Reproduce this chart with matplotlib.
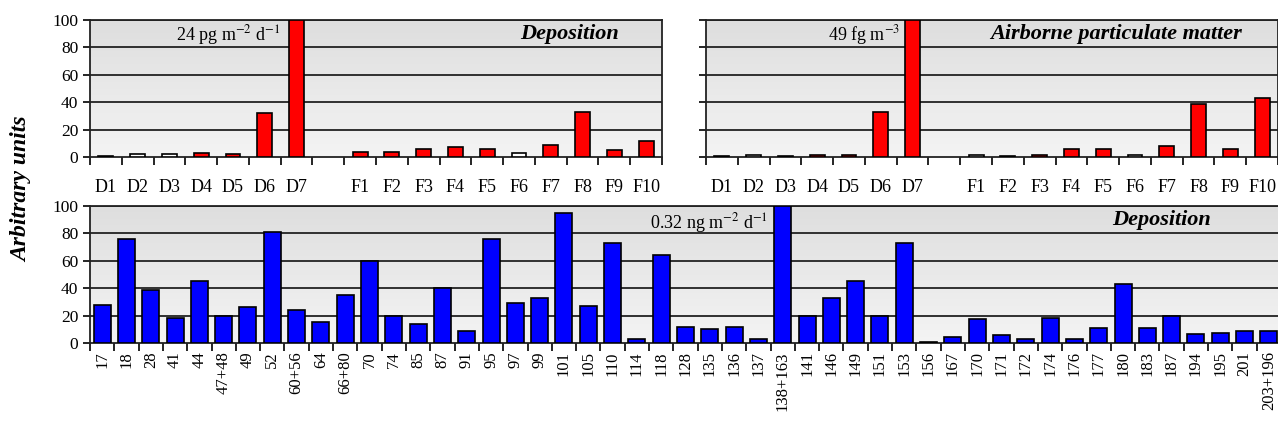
import numpy as np
import matplotlib.pyplot as plt
from matplotlib.colors import LinearSegmentedColormap

plt.rcParams['font.family'] = 'Liberation Serif'
plt.rcParams['mathtext.fontset'] = 'stix'

# top panels: D1-D7, gap, F1-F10
top_labels = ['D1', 'D2', 'D3', 'D4', 'D5', 'D6', 'D7', '',
              'F1', 'F2', 'F3', 'F4', 'F5', 'F6', 'F7', 'F8', 'F9', 'F10']
dep_vals = [1, 2, 2, 3, 2, 32, 100, np.nan, 4, 4, 6, 7, 6, 3, 9, 33, 5, 12]
dep_nd = ['D2', 'D3', 'F6']
air_vals = [0.5, 1.5, 0.5, 1.5, 1.5, 33, 100, np.nan,
            1.5, 0.5, 1.5, 6, 6, 1.5, 8, 39, 6, 43]
air_nd = ['D2', 'F1', 'F6']

# bottom panel: congeners
congeners = ['17', '18', '28', '41', '44', '47+48', '49', '52', '60+56', '64',
             '66+80', '70', '74', '85', '87', '91', '95', '97', '99', '101',
             '105', '110', '114', '118', '128', '135', '136', '137', '138+163',
             '141', '146', '149', '151', '153', '156', '167', '170', '171',
             '172', '174', '176', '177', '180', '183', '187', '194', '195',
             '201', '203+196']
cong_vals = [28, 76, 39, 18, 45, 20, 26, 81, 24, 15,
             35, 60, 20, 14, 40, 9, 76, 29, 33, 95,
             27, 73, 3, 64, 12, 10, 12, 3, 100,
             20, 33, 45, 20, 73, 1, 4.5, 17.5, 5.5,
             3, 18.5, 3, 11, 43, 11, 20, 6.5, 7.5,
             8.5, 8.5]

bg = LinearSegmentedColormap.from_list('bg', ['#f4f4f4', '#dedede'])


def setup(ax, n, show_y=True):
    grad = np.linspace(0, 1, 256).reshape(-1, 1)
    ax.imshow(grad, extent=[-0.5, n - 0.5, 0, 100], origin='lower',
              cmap=bg, aspect='auto', zorder=0)
    for v in [20, 40, 60, 80, 100]:
        ax.axhline(v, color='#222222', lw=1.3, zorder=1)
    ax.set_xlim(-0.5, n - 0.5)
    ax.set_ylim(0, 100)
    ax.set_yticks([0, 20, 40, 60, 80, 100])
    ax.tick_params(axis='y', direction='out', length=5, width=1.2,
                   labelsize=12.5, labelleft=show_y)
    ax.set_xticks(np.arange(n + 1) - 0.5, minor=True)
    ax.tick_params(axis='x', which='minor', direction='out', length=6, width=1.2)
    ax.tick_params(axis='x', which='major', length=0)
    for s in ax.spines.values():
        s.set_linewidth(1.3)
        s.set_color('#222222')


fig = plt.figure(figsize=(12.78, 4.26), dpi=100)

ax1 = fig.add_axes([90 / 1278, 1 - 157 / 426, 572 / 1278, 137 / 426])
ax2 = fig.add_axes([706 / 1278, 1 - 157 / 426, 572 / 1278, 137 / 426])
ax3 = fig.add_axes([90 / 1278, 1 - 343 / 426, 1191 / 1278, 137 / 426])

for ax, vals, nd, show_y in [(ax1, dep_vals, dep_nd, True),
                             (ax2, air_vals, air_nd, False)]:
    n = len(top_labels)
    setup(ax, n, show_y)
    x = np.arange(n)
    cols = ['white' if lab in nd else '#ff0000' for lab in top_labels]
    ax.bar(x, vals, width=0.47, color=cols, edgecolor='black', lw=1.2, zorder=3)
    ax.set_xticks(x)
    ax.set_xticklabels(top_labels, fontsize=13)
    ax.tick_params(axis='x', which='major', pad=16)

ax1.text(5.5, 98, '24 pg m$^{-2}$ d$^{-1}$', ha='right', va='top', fontsize=13)
ax1.text(14.6, 90, 'Deposition', ha='center', va='center', fontsize=16,
         fontweight='bold', style='italic')
ax2.text(5.6, 98, '49 fg m$^{-3}$', ha='right', va='top', fontsize=13)
ax2.text(12.4, 90, 'Airborne particulate matter', ha='center', va='center',
         fontsize=16, fontweight='bold', style='italic')

n = len(congeners)
setup(ax3, n, True)
x = np.arange(n)
ax3.bar(x, cong_vals, width=0.7, color='#0000ff', edgecolor='black', lw=1.2, zorder=3)
ax3.set_xticks(x)
ax3.set_xticklabels(congeners, rotation=90, fontsize=12, va='top')
ax3.tick_params(axis='x', which='major', pad=6)
ax3.text(27.4, 96, '0.32 ng m$^{-2}$ d$^{-1}$', ha='right', va='top', fontsize=13)
ax3.text(43.6, 90, 'Deposition', ha='center', va='center', fontsize=16,
         fontweight='bold', style='italic')

fig.text(22 / 1278, 1 - 189 / 426, 'Arbitrary units', rotation=90,
         ha='center', va='center', fontsize=17, fontweight='bold', style='italic')

fig.savefig('out.png', dpi=100)
